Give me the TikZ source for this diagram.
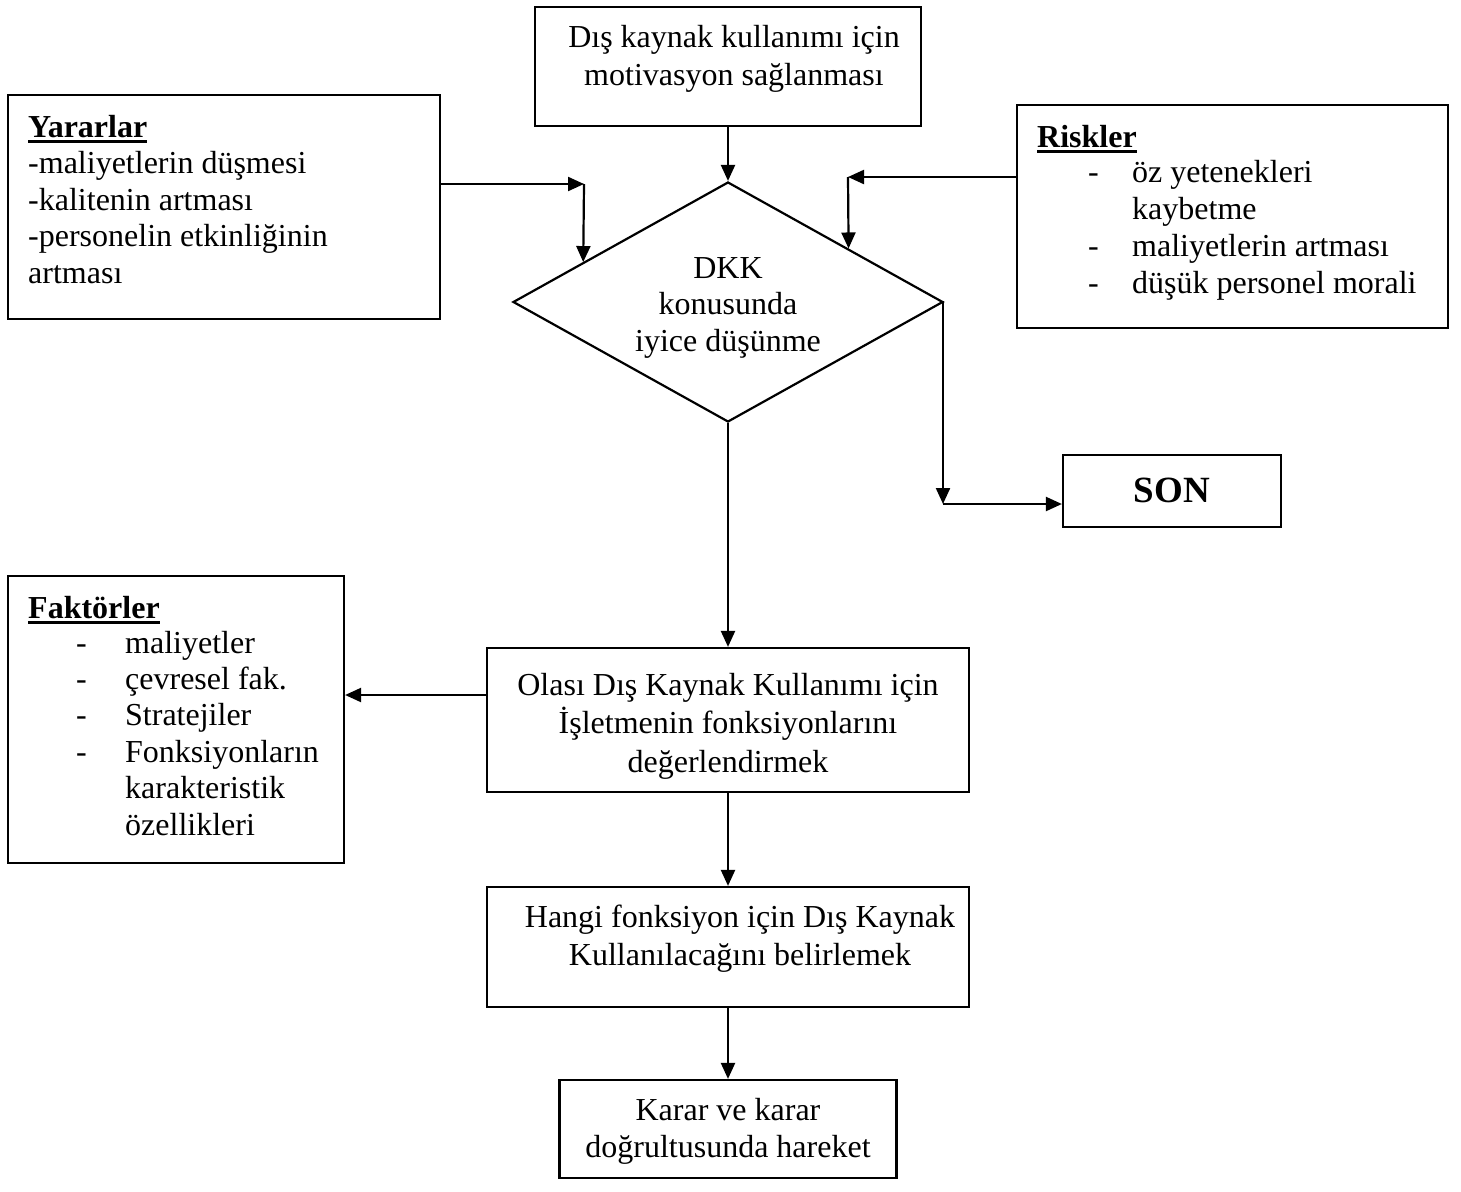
\documentclass[tikz,border=0pt]{standalone}
\usepackage{fontspec}
\setmainfont{Liberation Serif}
\usetikzlibrary{arrows.meta,shapes.geometric,calc}
\newcommand\hdul[1]{\vtop{\hbox{\bfseries #1}\kern2.5pt\hrule height 2.8pt}}
\begin{document}
\begin{tikzpicture}[x=1pt,y=-1pt,
  box/.style={draw, line width=2.2pt, rectangle, inner sep=0pt},
  dmd/.style={draw, line width=2.2pt, diamond, inner sep=0pt},
  txt/.style={inner sep=0pt, font=\fontsize{32}{#1}\selectfont},
  arr/.style={-{Triangle[length=16pt,width=14pt]}, line width=2.2pt}]
\useasboundingbox (0,0) rectangle (1461,1191);
% boxes
\node[box, minimum width=386pt, minimum height=119pt] (top) at (728,66.5) {};
\node[box, minimum width=432pt, minimum height=224pt] (yar) at (224,207) {};
\node[box, minimum width=431pt, minimum height=223pt] (risk) at (1232.5,216.5) {};
\node[dmd, minimum width=430pt, minimum height=240pt] (dia) at (728,302) {};
\node[box, minimum width=218pt, minimum height=72pt] (son) at (1172,491) {};
\node[box, minimum width=482pt, minimum height=144pt] (olasi) at (728,720) {};
\node[box, minimum width=336pt, minimum height=287pt] (fak) at (176,719.5) {};
\node[box, minimum width=482pt, minimum height=120pt] (hangi) at (728,947) {};
\node[box, minimum width=337pt, minimum height=98pt] (karar) at (728,1129) {};
% texts
\node[txt=38, anchor=base] (topT) at (734,47)
  {\begin{tabular}[t]{@{}c@{}}Dış kaynak kullanımı için\\motivasyon sağlanması\end{tabular}};
\node[txt=36.5, anchor=base west] (yarT) at (28,137)
  {\begin{tabular}[t]{@{}l@{}}\hdul{Yararlar}\\-maliyetlerin düşmesi\\-kalitenin artması\\-personelin etkinliğinin\\artması\end{tabular}};
\node[txt=36.5, anchor=base west] (riskH) at (1037,147) {\hdul{Riskler}};
\node[txt=37, anchor=base west] (riskT) at (1088,182)
  {\begin{tabular}[t]{@{}l@{}}\makebox[44pt][l]{-}öz yetenekleri\\\hspace*{44pt}kaybetme\\\makebox[44pt][l]{-}maliyetlerin artması\\\makebox[44pt][l]{-}düşük personel morali\end{tabular}};
\node[txt=36.5, anchor=base] (diaT) at (728,278)
  {\begin{tabular}[t]{@{}c@{}}DKK\\konusunda\\iyice düşünme\end{tabular}};
\node[inner sep=0pt, font=\fontsize{37}{40}\selectfont\bfseries, anchor=base] (sonT) at (1172,502) {SON};
\node[txt=38.5, anchor=base] (olasiT) at (728,695)
  {\begin{tabular}[t]{@{}c@{}}Olası Dış Kaynak Kullanımı için\\İşletmenin fonksiyonlarını\\değerlendirmek\end{tabular}};
\node[txt=36.5, anchor=base west] (fakH) at (28,618) {\hdul{Faktörler}};
\node[txt=36.4, anchor=base west] (fakT) at (76,653)
  {\begin{tabular}[t]{@{}l@{}}\makebox[49pt][l]{-}maliyetler\\\makebox[49pt][l]{-}çevresel fak.\\\makebox[49pt][l]{-}Stratejiler\\\makebox[49pt][l]{-}Fonksiyonların\\\hspace*{49pt}karakteristik\\\hspace*{49pt}özellikleri\end{tabular}};
\node[txt=38, anchor=base] (hangiT) at (740,927)
  {\begin{tabular}[t]{@{}c@{}}Hangi fonksiyon için Dış Kaynak\\Kullanılacağını belirlemek\end{tabular}};
\node[txt=37, anchor=base] (kararT) at (728,1120)
  {\begin{tabular}[t]{@{}c@{}}Karar ve karar\\doğrultusunda hareket\end{tabular}};
% connector junctions
\coordinate (yj) at (584,184);
\coordinate (rj) at (848,177);
\coordinate (sj) at (943,504);
\coordinate (fy) at (400,695);
% connectors
\draw[arr] (top.south) -- (dia.north);
\draw[arr] (yar.east |- yj) -- (yj);
\draw[arr] (yj) -- ($(dia.west)!0.330!(dia.north)$);
\draw[arr] (risk.west |- rj) -- (rj);
\draw[arr] (rj) -- ($(dia.north)!0.558!(dia.east)$);
\draw[line width=2.2pt] (dia.east) -- (dia.east -| sj);
\draw[arr] (dia.east -| sj) -- (sj);
\draw[arr] (sj) -- (son.west |- sj);
\draw[arr] (dia.south) -- (olasi.north);
\draw[arr] (olasi.west |- fy) -- (fak.east |- fy);
\draw[arr] (olasi.south) -- (hangi.north);
\draw[arr] (hangi.south) -- (karar.north);
\end{tikzpicture}
\end{document}
